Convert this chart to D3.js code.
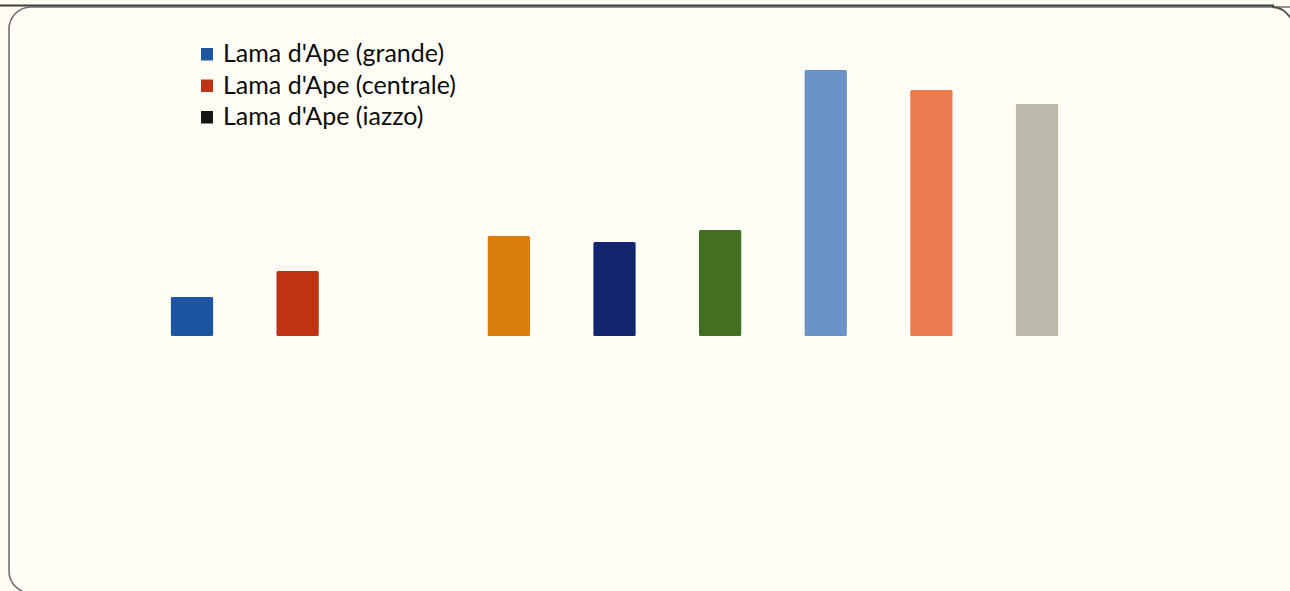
<!DOCTYPE html>
<html>
<head>
<meta charset="utf-8">
<script src="https://cdn.jsdelivr.net/npm/d3@7"></script>
<style>
  html, body { margin: 0; padding: 0; background: #fefcf3; overflow: hidden; }
  svg { display: block; }
</style>
</head>
<body>
<svg id="chart" width="1290" height="591"></svg>
<script>
// Sites / series, in drawing order (the third slot has no bar)
const categories = ["grande", "centrale", "iazzo", "serie4", "serie5", "serie6", "serie7", "serie8", "serie9"];
const values = [39, 65, 0, 100, 94, 106, 266, 246, 232];
const colors = ["#1d55a0", "#bd3314", "#151515", "#d97c0b", "#14256f", "#436f21", "#6b93c8", "#eb7b4f", "#bdb9aa"];

// Legend entries
const legendLabels = ["Lama d'Ape (grande)", "Lama d'Ape (centrale)", "Lama d'Ape (iazzo)"];
const legendColors = ["#1d55a0", "#bd3314", "#151515"];

const svg = d3.select("#chart");
const W = 1290, H = 591;

// Outer frame: straight top rule and rounded panel (right side runs past the edge)
svg.append("rect").attr("x", 0).attr("y", 0).attr("width", W).attr("height", H).attr("fill", "#fefcf3");
const panel = d3.path();
panel.moveTo(1330, 7);
panel.lineTo(31, 7);
panel.arcTo(9, 7, 9, 29, 22);
panel.lineTo(9, 571);
panel.arcTo(9, 593, 31, 593, 22);
panel.lineTo(1330, 593);
svg.append("path")
  .attr("d", panel.toString())
  .attr("fill", "#fffdf6").attr("stroke", "#707070").attr("stroke-width", 1.6);
// top-right corner bending off the edge
svg.append("path")
  .attr("d", "M1272,7 Q1284,7 1292,20")
  .attr("fill", "none").attr("stroke", "#555").attr("stroke-width", 1.8);
svg.append("line")
  .attr("x1", 0).attr("x2", 1274).attr("y1", 5.5).attr("y2", 5.5)
  .attr("stroke", "#3f3f3f").attr("stroke-width", 2.2);

// Scales
const baseline = 336;
const x = d3.scaleBand()
  .domain(categories)
  .range([139.2, 1089.8])
  .paddingInner(0.6)
  .paddingOuter(0.3);
const y = d3.scaleLinear().domain([0, 300]).range([baseline, baseline - 300]);

const data = categories.map((c, i) => ({ c, v: values[i], col: colors[i] }));

svg.append("g")
  .selectAll("rect")
  .data(data.filter(d => d.v > 0))
  .join("rect")
  .attr("x", d => x(d.c))
  .attr("y", d => y(d.v))
  .attr("width", x.bandwidth())
  .attr("height", d => y(0) - y(d.v))
  .attr("rx", 1.5)
  .attr("fill", d => d.col);

// Legend
const legend = svg.append("g").attr("transform", "translate(201,48)");
const rowH = 31.5;
legend.selectAll("rect")
  .data(legendLabels)
  .join("rect")
  .attr("x", 0)
  .attr("y", (d, i) => i * rowH)
  .attr("width", 12)
  .attr("height", 12.5)
  .attr("fill", (d, i) => legendColors[i]);
legend.selectAll("text")
  .data(legendLabels)
  .join("text")
  .attr("x", 22)
  .attr("y", (d, i) => i * rowH + 14)
  .attr("font-family", "Lato, 'Open Sans', sans-serif")
  .attr("font-size", 25)
  .attr("fill", "#0c0c0c")
  .text(d => d);
</script>
</body>
</html>
